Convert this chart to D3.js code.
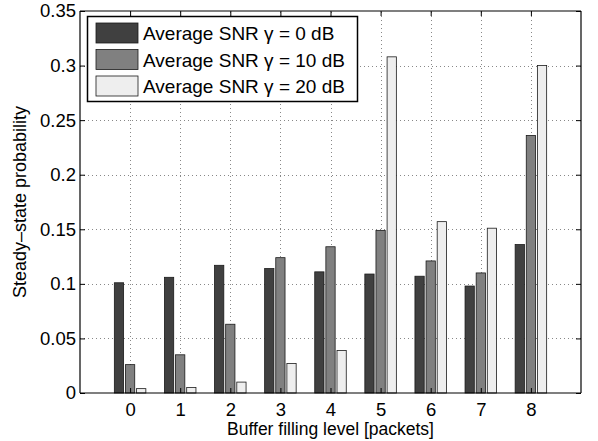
<!DOCTYPE html>
<html>
<head>
<meta charset="utf-8">
<script src="https://cdn.jsdelivr.net/npm/d3@7"></script>
<style>
  body { margin: 0; background: #fff; }
  text { font-family: "Liberation Sans", Arial, Helvetica, sans-serif; }
</style>
</head>
<body>
<div id="chart"></div>
<script>
const levels = [0, 1, 2, 3, 4, 5, 6, 7, 8];
const seriesNames = ["Average SNR \u03b3 = 0 dB", "Average SNR \u03b3 = 10 dB", "Average SNR \u03b3 = 20 dB"];
const snr0 = [0.101, 0.106, 0.117, 0.114, 0.111, 0.109, 0.107, 0.098, 0.136];
const snr10 = [0.026, 0.035, 0.063, 0.124, 0.134, 0.149, 0.121, 0.110, 0.236];
const snr20 = [0.004, 0.005, 0.010, 0.027, 0.039, 0.308, 0.157, 0.151, 0.300];
const yTicks = [0, 0.05, 0.1, 0.15, 0.2, 0.25, 0.3, 0.35];
const colors = ["#404040", "#808080", "#eeeeee"];

const width = 598;
const height = 441;
const margin = { top: 11, right: 17, bottom: 48, left: 80 };

const svg = d3.select("#chart")
  .append("svg")
  .attr("width", width)
  .attr("height", height);

const x = d3.scaleLinear()
  .domain([-1, 9])
  .range([margin.left, width - margin.right]);

const y = d3.scaleLinear()
  .domain([0, 0.35])
  .range([height - margin.bottom, margin.top]);

const series = [snr0, snr10, snr20];
const unit = x(1) - x(0);
const offsets = [-0.222, 0, 0.222];
const barW = 0.185 * unit;

// grid
const grid = svg.append("g")
  .attr("stroke", "#888")
  .attr("stroke-width", 1)
  .attr("stroke-dasharray", "1,3");

grid.selectAll(".gx")
  .data(levels)
  .enter()
  .append("line")
  .attr("x1", d => Math.round(x(d)) + 0.5)
  .attr("x2", d => Math.round(x(d)) + 0.5)
  .attr("y1", y(0))
  .attr("y2", y(0.35));

grid.selectAll(".gy")
  .data(yTicks.slice(1, -1))
  .enter()
  .append("line")
  .attr("y1", d => Math.round(y(d)) + 0.5)
  .attr("y2", d => Math.round(y(d)) + 0.5)
  .attr("x1", x(-1))
  .attr("x2", x(9));

// bars
series.forEach((vals, s) => {
  svg.append("g")
    .selectAll("rect")
    .data(vals)
    .enter()
    .append("rect")
    .attr("x", (d, i) => x(levels[i] + offsets[s]) - barW / 2)
    .attr("y", d => y(d))
    .attr("width", barW)
    .attr("height", d => y(0) - y(d))
    .attr("fill", colors[s])
    .attr("stroke", "#1a1a1a")
    .attr("stroke-width", 0.8);
});

// axes (inward ticks all round, MATLAB box)
const axBottom = svg.append("g")
  .attr("transform", `translate(0,${y(0)})`)
  .call(d3.axisBottom(x).tickValues(levels).tickSize(-5).tickPadding(10).tickFormat(d3.format("d")));
const axTop = svg.append("g")
  .attr("transform", `translate(0,${y(0.35)})`)
  .call(d3.axisTop(x).tickValues(levels).tickSize(-5).tickFormat(""));
const axLeft = svg.append("g")
  .attr("transform", `translate(${x(-1)},0)`)
  .call(d3.axisLeft(y).tickValues(yTicks).tickSize(-5).tickPadding(4).tickFormat(d => d === 0 ? "0" : String(d)));
const axRight = svg.append("g")
  .attr("transform", `translate(${x(9)},0)`)
  .call(d3.axisRight(y).tickValues(yTicks).tickSize(-5).tickFormat(""));

[axBottom, axTop, axLeft, axRight].forEach(g => {
  g.select(".domain").attr("stroke", "#000").attr("stroke-width", 1.2);
  g.selectAll(".tick line").attr("stroke", "#000");
  g.selectAll("text").attr("font-size", "18.5px").attr("fill", "#000")
    .style("font-family", "'Liberation Sans', Arial, sans-serif");
});
axBottom.select(".domain").attr("d", `M${x(-1)},0H${x(9)}`);
axTop.select(".domain").attr("d", `M${x(-1)},0H${x(9)}`);
axLeft.select(".domain").attr("d", `M0,${y(0)}V${y(0.35)}`);
axRight.select(".domain").attr("d", `M0,${y(0)}V${y(0.35)}`);

// legend
const legend = svg.append("g");
legend.append("rect")
  .attr("x", 87.5)
  .attr("y", 16.5)
  .attr("width", 270)
  .attr("height", 85)
  .attr("fill", "#fff")
  .attr("stroke", "#000")
  .attr("stroke-width", 1.5);

seriesNames.forEach((name, i) => {
  const cy = 33 + i * 26.5;
  legend.append("rect")
    .attr("x", 96)
    .attr("y", cy - 10)
    .attr("width", 42)
    .attr("height", 20)
    .attr("fill", colors[i])
    .attr("stroke", "#1a1a1a")
    .attr("stroke-width", 0.8);
  legend.append("text")
    .attr("x", 143)
    .attr("y", cy + 7)
    .attr("font-size", "19px")
    .text(name);
});

// axis labels
svg.append("text")
  .attr("x", (x(-1) + x(9)) / 2)
  .attr("y", 435)
  .attr("text-anchor", "middle")
  .attr("font-size", "17.5px")
  .text("Buffer filling level [packets]");

svg.append("text")
  .attr("transform", "rotate(-90)")
  .attr("x", -(y(0) + y(0.35)) / 2)
  .attr("y", 26)
  .attr("text-anchor", "middle")
  .attr("font-size", "18px")
  .text("Steady\u2013state probability");
</script>
</body>
</html>
